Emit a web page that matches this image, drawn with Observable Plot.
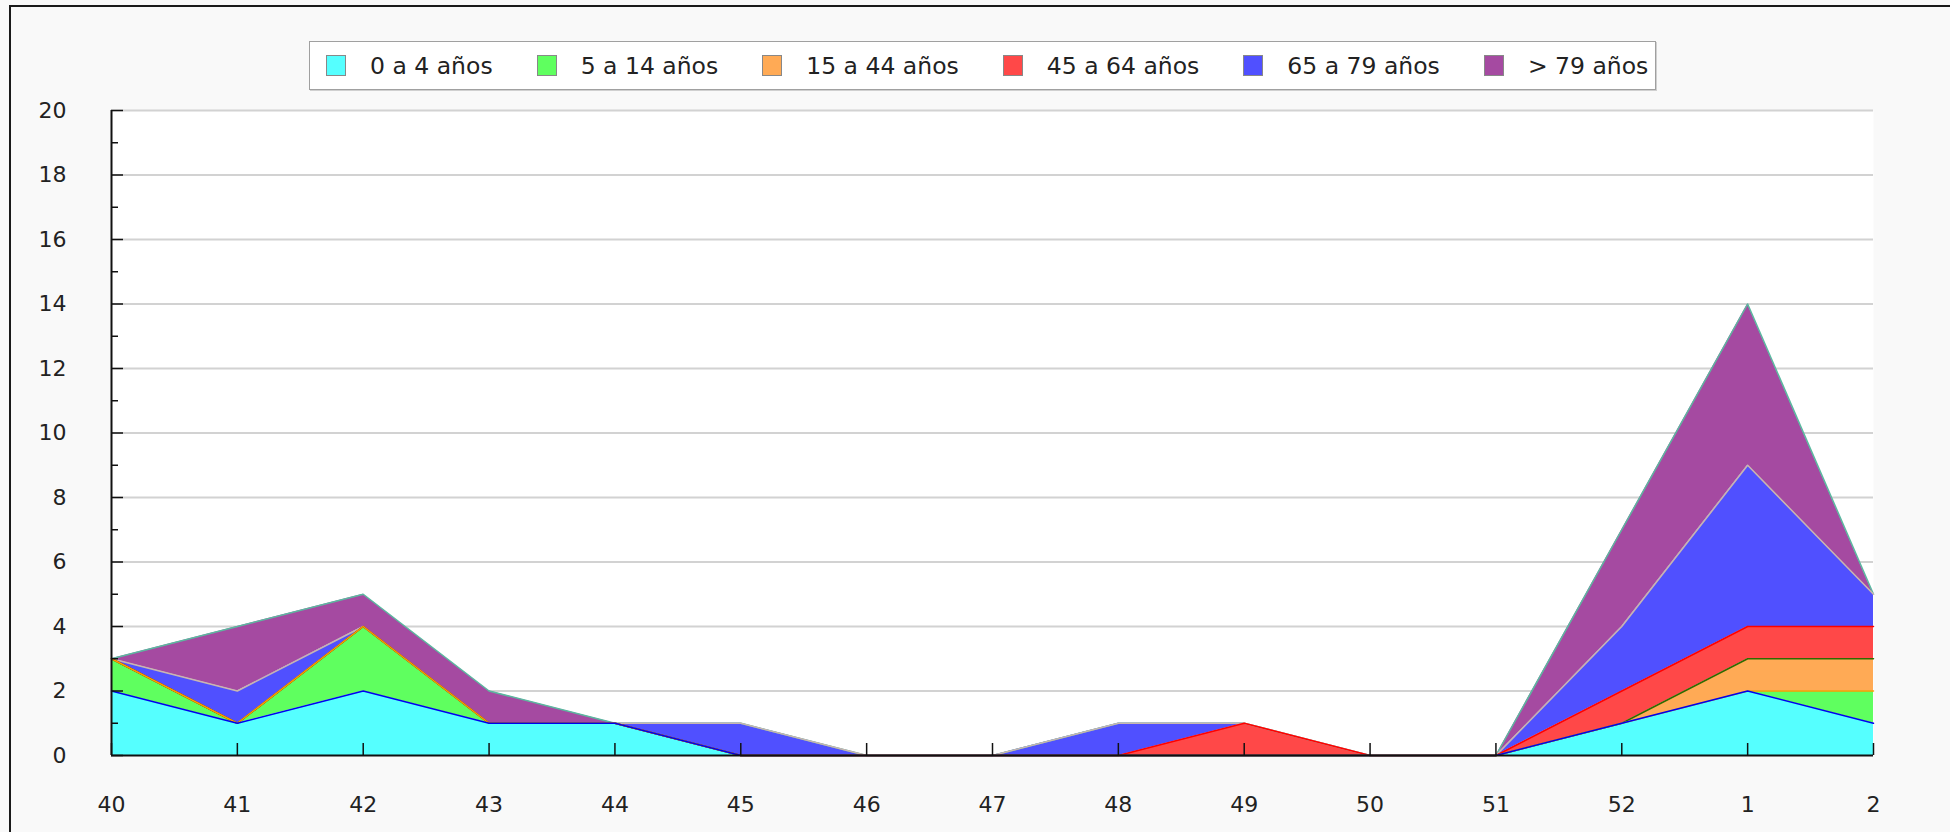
<!DOCTYPE html>
<html>
<head>
<meta charset="utf-8">
<script src="https://cdn.jsdelivr.net/npm/d3@7"></script>
<script src="https://cdn.jsdelivr.net/npm/@observablehq/plot@0.6"></script>
<style>
  html, body { margin: 0; padding: 0; background: #f9f9f9; width: 1950px; height: 832px; overflow: hidden; }
  #frameBorder { position: absolute; left: 9px; top: 5px; right: -5px; bottom: -5px; border-top: 2px solid #1a1a1a; border-left: 2px solid #1a1a1a; pointer-events: none; }
  #legendWrap { position: relative; height: 90px; }
  #legend { position: absolute; left: 309px; top: 41px; width: 1347px; height: 49px; background: #fff; border: 1px solid #a0a0a0; box-shadow: 1px 1px 0 #d0d0d0; display: flex; align-items: center; padding-left: 16px; box-sizing: border-box; font-family: "DejaVu Sans", sans-serif; font-size: 23.5px; color: #222; }
  .item { display: flex; align-items: center; margin-right: 44px; white-space: nowrap; }
  .sw { width: 20px; height: 21px; border: 1px solid #888; margin-right: 24px; box-sizing: border-box; }
  #chart svg { display: block; }
</style>
</head>
<body>
<div id="frameBorder"></div>
<div id="legendWrap"><div id="legend"></div></div>
<div id="chart"></div>
<script>
// ---- data ----
const weeks = ["40","41","42","43","44","45","46","47","48","49","50","51","52","1","2"];
const seriesNames = ["0 a 4 años","5 a 14 años","15 a 44 años","45 a 64 años","65 a 79 años","> 79 años"];
const age0_4   = [2,1,2,1,1,0,0,0,0,0,0,0,1,2,1];
const age5_14  = [1,0,2,0,0,0,0,0,0,0,0,0,0,0,1];
const age15_44 = [0,0,0,0,0,0,0,0,0,0,0,0,0,1,1];
const age45_64 = [0,0,0,0,0,0,0,0,0,1,0,0,1,1,1];
const age65_79 = [0,1,0,0,0,1,0,0,1,0,0,0,2,5,1];
const age80    = [0,2,1,1,0,0,0,0,0,0,0,0,3,5,0];
const yTicks = [0,2,4,6,8,10,12,14,16,18,20];
const yMinorTicks = [1,3,5,7,9,11,13,15,17,19];

const fillColors = ["#55ffff","#5fff5f","#ffaa55","#ff4848","#5050ff","#a54aa1"];
const lineColors = ["#0000ee","#ff9a00","#2e6a00","#ff0000","#c9b6b0","#5cb8a0"];

const allSeries = [age0_4, age5_14, age15_44, age45_64, age65_79, age80];
const rows = [];
allSeries.forEach((vals, s) => vals.forEach((v, i) => rows.push({i, v, series: seriesNames[s], s})));
const rowsRev = rows.slice().sort((a, b) => b.s - a.s || a.i - b.i);

// ---- legend ----
const legend = document.getElementById("legend");
seriesNames.forEach((name, s) => {
  const it = document.createElement("div"); it.className = "item";
  const sw = document.createElement("div"); sw.className = "sw"; sw.style.background = fillColors[s];
  const tx = document.createElement("span"); tx.textContent = name;
  it.appendChild(sw); it.appendChild(tx); legend.appendChild(it);
});

// ---- chart ----
const idx = d3.range(weeks.length);
const chart = Plot.plot({
  width: 1950,
  height: 742,
  marginLeft: 111,
  marginRight: 77,
  marginTop: 20,
  marginBottom: 77,
  style: { fontFamily: "DejaVu Sans, sans-serif", fontSize: "22px", background: "transparent", color: "#222" },
  x: { type: "linear", domain: [0, weeks.length - 1], label: null },
  y: { domain: [0, 20], label: null },
  color: { type: "identity" },
  marks: [
    Plot.frame({ fill: "white", stroke: "none" }),
    Plot.ruleY(yTicks.slice(1), { stroke: "#d2d2d2", strokeWidth: 2 }),
    Plot.areaY(rows, { x: "i", y: "v", z: "series", fill: d => fillColors[d.s], order: seriesNames }),
    Plot.lineY(rowsRev, Plot.stackY2({ x: "i", y: "v", z: "series", order: seriesNames, stroke: d => lineColors[d.s], strokeWidth: 1.5 })),
    Plot.axisY({ ticks: yTicks, tickSize: 0, tickPadding: 45, tickFormat: d => String(d), label: null }),
    Plot.axisY({ ticks: yTicks, tickSize: -12, fill: "none", stroke: "#111", strokeWidth: 1.5, label: null }),
    Plot.axisY({ ticks: yMinorTicks, tickSize: -7, fill: "none", stroke: "#111", strokeWidth: 1.5, label: null }),
    Plot.axisX({ ticks: idx, tickSize: 0, tickPadding: 41, tickFormat: i => weeks[i], label: null }),
    Plot.axisX({ ticks: idx, tickSize: -12, fill: "none", stroke: "#111", strokeWidth: 1.5, label: null }),
    Plot.ruleX([0], { stroke: "#111", strokeWidth: 2 }),
    Plot.ruleY([0], { stroke: "#111", strokeWidth: 2 })
  ]
});
document.getElementById("chart").appendChild(chart);
</script>
</body>
</html>
